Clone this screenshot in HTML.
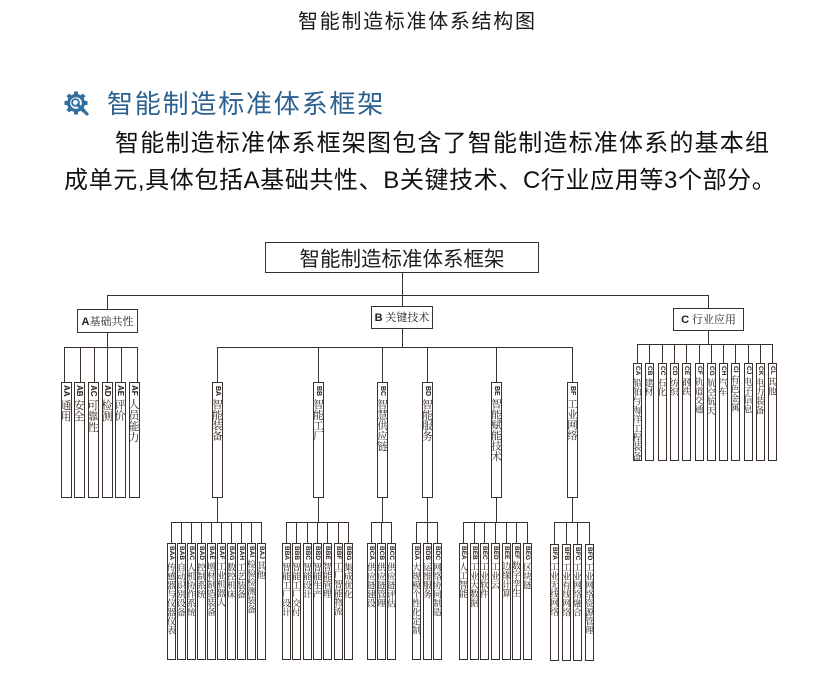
<!DOCTYPE html>
<html><head><meta charset="utf-8">
<style>
*{margin:0;padding:0}
html,body{width:839px;height:676px;background:#fff;overflow:hidden}
body{position:relative;font-family:"Liberation Sans","Noto Sans CJK SC",sans-serif;color:#1a1a1a}
.t{position:absolute;white-space:nowrap}
.l{position:absolute;background:#3a312d}
.bx{position:absolute;box-sizing:border-box;border:1px solid #3a312d;background:#fff;writing-mode:vertical-rl;font-family:"Noto Serif CJK SC","Noto Sans CJK SC",serif;color:#2b2420;white-space:nowrap;overflow:hidden}
.bx b{font-family:"Liberation Sans",sans-serif;font-weight:bold;color:#1f1a17}
.a{width:11px;height:116px;top:382px;font-size:11px;line-height:9px;padding-top:2px}
.a b{font-size:8px}
.bb{width:11px;height:116px;top:382px;font-size:10.5px;line-height:9px;padding-top:3px}
.bb b{font-size:7px}
.lf{width:9px;height:117px;top:543px;font-size:9px;line-height:7px;padding-top:2px}
.lf b{font-size:6.5px}
.bf{top:544px}
.cc{width:9px;height:98px;top:363px;font-size:9.2px;line-height:7px;padding-top:2px}
.cc b{font-size:6.5px}
.hb{position:absolute;box-sizing:border-box;border:1px solid #3a312d;background:#fff;text-align:center;font-family:"Noto Serif CJK SC","Noto Sans CJK SC",serif;font-size:11px;color:#222;white-space:nowrap}
.hb b{font-family:"Liberation Sans",sans-serif;font-weight:bold}
</style></head><body>

<div class="t" style="left:298px;top:11px;font-size:20px;line-height:22px;letter-spacing:1.7px;color:#1a1a1a">智能制造标准体系结构图</div>

<svg style="position:absolute;left:64px;top:91px" width="27" height="27" viewBox="0 0 27 27">
<g fill="#2f6e9f">
<circle cx="12" cy="12" r="9"/>
<rect x="10" y="0.5" width="4" height="4"/>
<rect x="10" y="0.5" width="4" height="4" transform="rotate(45 12 12)"/>
<rect x="10" y="0.5" width="4" height="4" transform="rotate(90 12 12)"/>
<rect x="10" y="0.5" width="4" height="4" transform="rotate(135 12 12)"/>
<rect x="10" y="0.5" width="4" height="4" transform="rotate(180 12 12)"/>
<rect x="10" y="0.5" width="4" height="4" transform="rotate(225 12 12)"/>
<rect x="10" y="0.5" width="4" height="4" transform="rotate(270 12 12)"/>
<rect x="10" y="0.5" width="4" height="4" transform="rotate(315 12 12)"/>
</g>
<circle cx="12" cy="12" r="5.8" fill="#fff"/>
<circle cx="11.5" cy="11.5" r="3.4" fill="none" stroke="#2f6e9f" stroke-width="1.8"/>
<line x1="14" y1="14" x2="23" y2="23" stroke="#2f6e9f" stroke-width="3.2" stroke-linecap="round"/>
</svg>
<div class="t" style="left:107px;top:90px;font-size:26px;line-height:26px;letter-spacing:1.8px;color:#2c6190;font-family:'Noto Sans CJK SC',sans-serif">智能制造标准体系框架</div>

<div class="t" style="left:115px;top:132px;font-size:24px;line-height:24px;letter-spacing:1.2px;color:#111">智能制造标准体系框架图包含了智能制造标准体系的基本组</div>
<div class="t" style="left:64px;top:169px;width:712px;font-size:24px;line-height:24px;letter-spacing:0.2px;color:#111;text-align:justify;text-align-last:justify;white-space:normal">成单元,具体包括A基础共性、B关键技术、C行业应用等3个部分。</div>

<!-- root -->
<div class="hb" style="left:265px;top:242px;width:274px;height:31px;font-family:'Noto Sans CJK SC',sans-serif;font-size:20.5px;line-height:29px;color:#1e1e1e">智能制造标准体系框架</div>

<!-- top connectors -->
<div class="l" style="left:402px;top:273px;width:1px;height:33px"></div>
<div class="l" style="left:107px;top:295px;width:602px;height:1px"></div>
<div class="l" style="left:107px;top:295px;width:1px;height:14px"></div>
<div class="l" style="left:708px;top:295px;width:1px;height:13px"></div>

<div class="hb" style="left:77px;top:309px;width:61px;height:24px;line-height:22px"><b>A</b>基础共性</div>
<div class="hb" style="left:371px;top:306px;width:62px;height:23px;line-height:21px"><b>B</b> 关键技术</div>
<div class="hb" style="left:673px;top:308px;width:71px;height:23px;line-height:21px"><b>C</b> 行业应用</div>

<!-- A connectors -->
<div class="l" style="left:107px;top:333px;width:1px;height:14px"></div>
<div class="l" style="left:64px;top:347px;width:74px;height:1px"></div>
<div class="l" style="left:64px;top:347px;width:1px;height:35px"></div>
<div class="l" style="left:80px;top:347px;width:1px;height:35px"></div>
<div class="l" style="left:94px;top:347px;width:1px;height:35px"></div>
<div class="l" style="left:107px;top:347px;width:1px;height:35px"></div>
<div class="l" style="left:121px;top:347px;width:1px;height:35px"></div>
<div class="l" style="left:137px;top:347px;width:1px;height:35px"></div>

<div class="bx a" style="left:61px"><b>AA</b> 通用</div>
<div class="bx a" style="left:74px"><b>AB</b> 安全</div>
<div class="bx a" style="left:88px"><b>AC</b> 可靠性</div>
<div class="bx a" style="left:102px"><b>AD</b> 检测</div>
<div class="bx a" style="left:115px"><b>AE</b> 评价</div>
<div class="bx a" style="left:129px"><b>AF</b> 人员能力</div>

<!-- B connectors -->
<div class="l" style="left:402px;top:329px;width:1px;height:18px"></div>
<div class="l" style="left:217px;top:347px;width:356px;height:1px"></div>
<div class="l" style="left:217px;top:347px;width:1px;height:35px"></div>
<div class="l" style="left:318px;top:347px;width:1px;height:35px"></div>
<div class="l" style="left:382px;top:347px;width:1px;height:35px"></div>
<div class="l" style="left:427px;top:347px;width:1px;height:35px"></div>
<div class="l" style="left:496px;top:347px;width:1px;height:35px"></div>
<div class="l" style="left:572px;top:347px;width:1px;height:35px"></div>

<div class="l" style="left:217px;top:498px;width:1px;height:24px"></div>
<div class="l" style="left:318px;top:498px;width:1px;height:24px"></div>
<div class="l" style="left:382px;top:498px;width:1px;height:24px"></div>
<div class="l" style="left:427px;top:498px;width:1px;height:24px"></div>
<div class="l" style="left:496px;top:498px;width:1px;height:24px"></div>
<div class="l" style="left:572px;top:498px;width:1px;height:24px"></div>

<div class="bx bb" style="left:212px"><b>BA</b> 智能装备</div>
<div class="bx bb" style="left:313px"><b>BB</b> 智能工厂</div>
<div class="bx bb" style="left:377px"><b>BC</b> 智慧供应链</div>
<div class="bx bb" style="left:422px"><b>BD</b> 智能服务</div>
<div class="bx bb" style="left:491px"><b>BE</b> 智能赋能技术</div>
<div class="bx bb" style="left:567px"><b>BF</b> 工业网络</div>

<!-- BA group -->
<div class="l" style="left:171px;top:522px;width:91px;height:1px"></div>
<div class="l" style="left:171px;top:522px;width:1px;height:21px"></div>
<div class="l" style="left:181px;top:522px;width:1px;height:21px"></div>
<div class="l" style="left:191px;top:522px;width:1px;height:21px"></div>
<div class="l" style="left:201px;top:522px;width:1px;height:21px"></div>
<div class="l" style="left:211px;top:522px;width:1px;height:21px"></div>
<div class="l" style="left:221px;top:522px;width:1px;height:21px"></div>
<div class="l" style="left:231px;top:522px;width:1px;height:21px"></div>
<div class="l" style="left:241px;top:522px;width:1px;height:21px"></div>
<div class="l" style="left:251px;top:522px;width:1px;height:21px"></div>
<div class="l" style="left:261px;top:522px;width:1px;height:21px"></div>
<div class="bx lf" style="left:167px"><b>BAA</b> 传感器与仪器仪表</div>
<div class="bx lf" style="left:177px"><b>BAB</b> 自动识别设备</div>
<div class="bx lf" style="left:187px"><b>BAC</b> 人机协作系统</div>
<div class="bx lf" style="left:197px"><b>BAD</b> 控制系统</div>
<div class="bx lf" style="left:207px"><b>BAE</b> 增材制造装备</div>
<div class="bx lf" style="left:217px"><b>BAF</b> 工业机器人</div>
<div class="bx lf" style="left:227px"><b>BAG</b> 数控机床</div>
<div class="bx lf" style="left:237px"><b>BAH</b> 工艺装备</div>
<div class="bx lf" style="left:247px"><b>BAI</b> 检验检测装备</div>
<div class="bx lf" style="left:257px"><b>BAJ</b> 其他</div>

<!-- BB group -->
<div class="l" style="left:286px;top:522px;width:63px;height:1px"></div>
<div class="l" style="left:286px;top:522px;width:1px;height:21px"></div>
<div class="l" style="left:296px;top:522px;width:1px;height:21px"></div>
<div class="l" style="left:307px;top:522px;width:1px;height:21px"></div>
<div class="l" style="left:317px;top:522px;width:1px;height:21px"></div>
<div class="l" style="left:327px;top:522px;width:1px;height:21px"></div>
<div class="l" style="left:338px;top:522px;width:1px;height:21px"></div>
<div class="l" style="left:348px;top:522px;width:1px;height:21px"></div>
<div class="bx lf" style="left:282px"><b>BBA</b> 智能工厂设计</div>
<div class="bx lf" style="left:292px"><b>BBB</b> 智能工厂交付</div>
<div class="bx lf" style="left:303px"><b>BBC</b> 智能设计</div>
<div class="bx lf" style="left:313px"><b>BBD</b> 智能生产</div>
<div class="bx lf" style="left:323px"><b>BBE</b> 智能管理</div>
<div class="bx lf" style="left:334px"><b>BBF</b> 工厂智能物流</div>
<div class="bx lf" style="left:344px"><b>BBG</b> 集成优化</div>

<!-- BC group -->
<div class="l" style="left:371px;top:522px;width:21px;height:1px"></div>
<div class="l" style="left:371px;top:522px;width:1px;height:21px"></div>
<div class="l" style="left:381px;top:522px;width:1px;height:21px"></div>
<div class="l" style="left:391px;top:522px;width:1px;height:21px"></div>
<div class="bx lf" style="left:367px"><b>BCA</b> 供应链建设</div>
<div class="bx lf" style="left:377px"><b>BCB</b> 供应链管理</div>
<div class="bx lf" style="left:387px"><b>BCC</b> 供应链评估</div>

<!-- BD group -->
<div class="l" style="left:416px;top:522px;width:22px;height:1px"></div>
<div class="l" style="left:416px;top:522px;width:1px;height:21px"></div>
<div class="l" style="left:427px;top:522px;width:1px;height:21px"></div>
<div class="l" style="left:437px;top:522px;width:1px;height:21px"></div>
<div class="bx lf" style="left:412px"><b>BDA</b> 大规模个性化定制</div>
<div class="bx lf" style="left:423px"><b>BDB</b> 运维服务</div>
<div class="bx lf" style="left:433px"><b>BDC</b> 网络协同制造</div>

<!-- BE group -->
<div class="l" style="left:463px;top:522px;width:65px;height:1px"></div>
<div class="l" style="left:463px;top:522px;width:1px;height:21px"></div>
<div class="l" style="left:474px;top:522px;width:1px;height:21px"></div>
<div class="l" style="left:484px;top:522px;width:1px;height:21px"></div>
<div class="l" style="left:495px;top:522px;width:1px;height:21px"></div>
<div class="l" style="left:506px;top:522px;width:1px;height:21px"></div>
<div class="l" style="left:516px;top:522px;width:1px;height:21px"></div>
<div class="l" style="left:527px;top:522px;width:1px;height:21px"></div>
<div class="bx lf" style="left:459px"><b>BEA</b> 人工智能</div>
<div class="bx lf" style="left:470px"><b>BEB</b> 工业大数据</div>
<div class="bx lf" style="left:480px"><b>BEC</b> 工业软件</div>
<div class="bx lf" style="left:491px"><b>BED</b> 工业云</div>
<div class="bx lf" style="left:502px"><b>BEE</b> 边缘计算</div>
<div class="bx lf" style="left:512px"><b>BEF</b> 数字孪生</div>
<div class="bx lf" style="left:523px"><b>BEG</b> 区块链</div>

<!-- BF group -->
<div class="l" style="left:554px;top:522px;width:36px;height:1px"></div>
<div class="l" style="left:554px;top:522px;width:1px;height:22px"></div>
<div class="l" style="left:566px;top:522px;width:1px;height:22px"></div>
<div class="l" style="left:577px;top:522px;width:1px;height:22px"></div>
<div class="l" style="left:589px;top:522px;width:1px;height:22px"></div>
<div class="bx lf bf" style="left:550px"><b>BFA</b> 工业无线网络</div>
<div class="bx lf bf" style="left:562px"><b>BFB</b> 工业有线网络</div>
<div class="bx lf bf" style="left:573px"><b>BFC</b> 工业网络融合</div>
<div class="bx lf bf" style="left:585px"><b>BFD</b> 工业网络资源管理</div>

<!-- C group -->
<div class="l" style="left:708px;top:331px;width:1px;height:13px"></div>
<div class="l" style="left:637px;top:344px;width:136px;height:1px"></div>
<div class="l" style="left:637px;top:344px;width:1px;height:19px"></div>
<div class="l" style="left:649px;top:344px;width:1px;height:19px"></div>
<div class="l" style="left:662px;top:344px;width:1px;height:19px"></div>
<div class="l" style="left:674px;top:344px;width:1px;height:19px"></div>
<div class="l" style="left:686px;top:344px;width:1px;height:19px"></div>
<div class="l" style="left:699px;top:344px;width:1px;height:19px"></div>
<div class="l" style="left:711px;top:344px;width:1px;height:19px"></div>
<div class="l" style="left:723px;top:344px;width:1px;height:19px"></div>
<div class="l" style="left:735px;top:344px;width:1px;height:19px"></div>
<div class="l" style="left:748px;top:344px;width:1px;height:19px"></div>
<div class="l" style="left:760px;top:344px;width:1px;height:19px"></div>
<div class="l" style="left:772px;top:344px;width:1px;height:19px"></div>
<div class="bx cc" style="left:633px"><b>CA</b> 船舶与海洋工程装备</div>
<div class="bx cc" style="left:645px"><b>CB</b> 建材</div>
<div class="bx cc" style="left:658px"><b>CC</b> 石化</div>
<div class="bx cc" style="left:670px"><b>CD</b> 纺织</div>
<div class="bx cc" style="left:682px"><b>CE</b> 钢铁</div>
<div class="bx cc" style="left:695px"><b>CF</b> 轨道交通</div>
<div class="bx cc" style="left:707px"><b>CG</b> 航空航天</div>
<div class="bx cc" style="left:719px"><b>CH</b> 汽车</div>
<div class="bx cc" style="left:731px"><b>CI</b> 有色金属</div>
<div class="bx cc" style="left:744px"><b>CJ</b> 电子信息</div>
<div class="bx cc" style="left:756px"><b>CK</b> 电力装备</div>
<div class="bx cc" style="left:768px"><b>CL</b> 其他</div>

</body></html>
